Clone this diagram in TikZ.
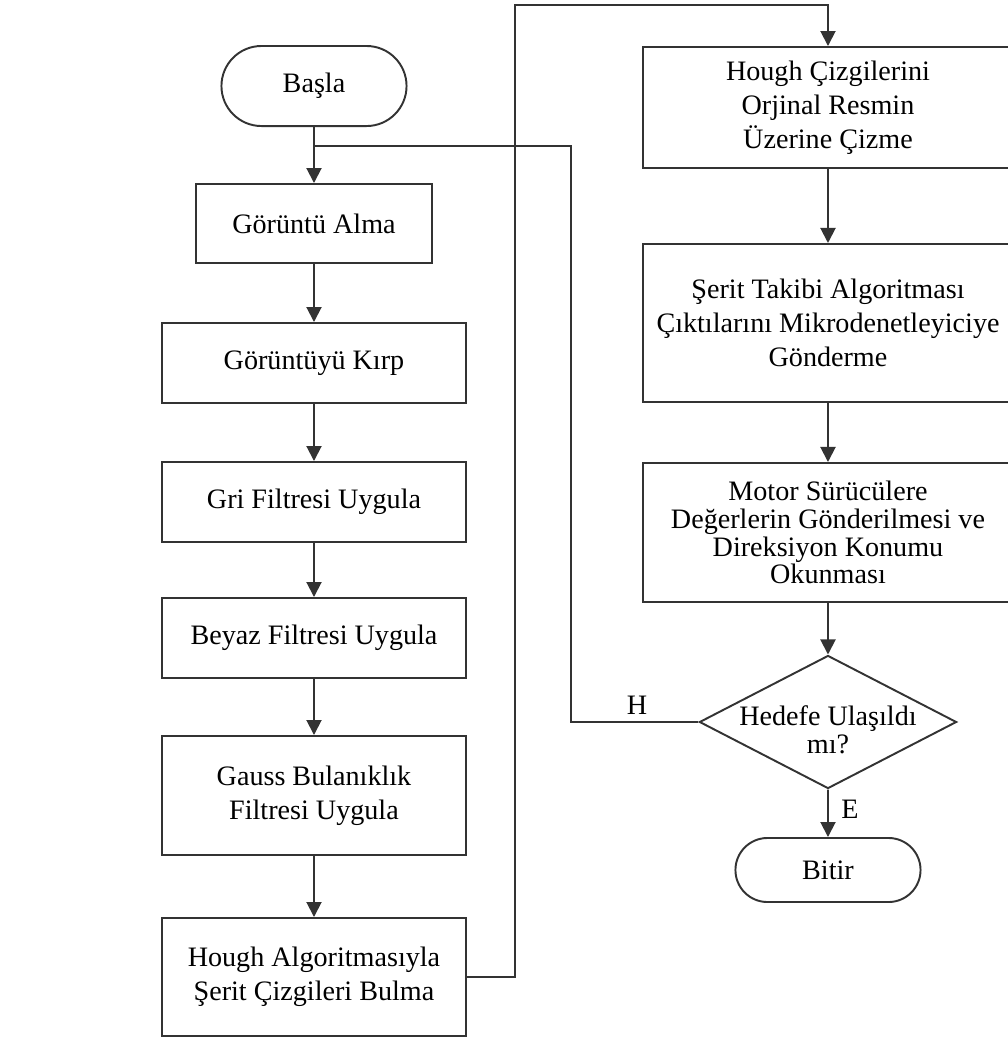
\documentclass[tikz,border=0pt]{standalone}
\usepackage{fontspec}
\setmainfont{Liberation Serif}
\usetikzlibrary{shapes.geometric,shapes.misc,arrows.meta}

\tikzset{
  kutu/.style={draw=black!80, line width=0.55pt, align=center, inner sep=0pt, font=\fontsize{8}{9.7}\selectfont},
  ucnokta/.style={kutu, rounded rectangle},
  karar/.style={draw=black!80, line width=0.55pt, diamond, inner sep=0pt},
  yazi/.style={align=center, inner sep=0pt, font=\fontsize{8}{9.7}\selectfont},
  ok/.style={draw=black!80, line width=0.55pt, -{Triangle[length=1.5mm,width=1.5mm]}},
  cizgi/.style={draw=black!80, line width=0.55pt},
}

\begin{document}
\begin{tikzpicture}[x=0.01cm,y=-0.01cm]
\clip (0,0) rectangle (1008,1041);
% sol sutun
\node[ucnokta, minimum width=1.85cm, minimum height=0.8cm] (basla) at (314,86) {Başla};
\node[kutu, minimum width=2.36cm, minimum height=0.79cm] (alma) at (314,223.5) {Görüntü Alma};
\node[kutu, minimum width=3.04cm, minimum height=0.8cm] (kirp) at (314,363) {Görüntüyü Kırp};
\node[kutu, minimum width=3.04cm, minimum height=0.8cm] (gri) at (314,502) {Gri Filtresi Uygula};
\node[kutu, minimum width=3.04cm, minimum height=0.8cm] (beyaz) at (314,638) {Beyaz Filtresi Uygula};
\node[kutu, minimum width=3.04cm, minimum height=1.19cm] (gauss) at (314,795.5) {Gauss Bulanıklık\\Filtresi Uygula};
\node[kutu, minimum width=3.04cm, minimum height=1.18cm] (hougha) at (314,977) {Hough Algoritmasıyla\\Şerit Çizgileri Bulma};
% sag sutun
\node[kutu, minimum width=3.7cm, minimum height=1.21cm] (houghc) at (828,107.5) {Hough Çizgilerini\\Orjinal Resmin\\Üzerine Çizme};
\node[kutu, minimum width=3.7cm, minimum height=1.58cm] (serit) at (828,323) {Şerit Takibi Algoritması\\Çıktılarını Mikrodenetleyiciye\\Gönderme};
\node[kutu, font=\fontsize{8}{7.9}\selectfont, minimum width=3.7cm, minimum height=1.39cm] (motor) at (828,532.5) {Motor Sürücülere\\Değerlerin Gönderilmesi ve\\Direksiyon Konumu\\Okunması};
\node[karar, minimum width=2.57cm, minimum height=1.33cm] (hedef) at (828,722) {};
\node[yazi, font=\fontsize{8}{7.9}\selectfont] (hedefyazi) at (828,730) {Hedefe Ulaşıldı\\mı?};
\node[ucnokta, minimum width=1.85cm, minimum height=0.64cm] (bitir) at (828,870) {Bitir};
\node[yazi] (hlabel) at (637,705) {H};
\node[yazi] (elabel) at (850,809) {E};

\coordinate (ust) at (515,5);
\coordinate (don) at (571,146);

\draw[ok] (basla) -- (alma);
\draw[ok] (alma) -- (kirp);
\draw[ok] (kirp) -- (gri);
\draw[ok] (gri) -- (beyaz);
\draw[ok] (beyaz) -- (gauss);
\draw[ok] (gauss) -- (hougha);
\draw[ok] (hougha.east) -| (ust) -| (houghc.north);
\draw[ok] (houghc) -- (serit);
\draw[ok] (serit) -- (motor);
\draw[ok] (motor) -- (hedef);
\draw[ok] (hedef) -- (bitir);
\draw[cizgi] (hedef.west) -| (don) -- (basla |- don);
\end{tikzpicture}
\end{document}
